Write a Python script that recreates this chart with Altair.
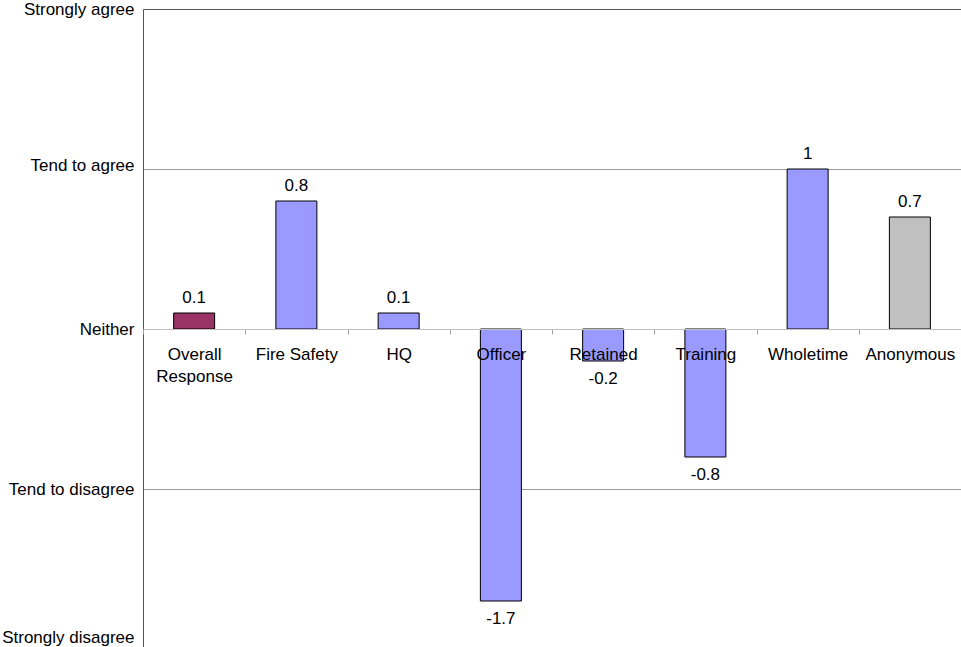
import altair as alt
import pandas as pd

categories = ["Overall Response", "Fire Safety", "HQ", "Officer",
              "Retained", "Training", "Wholetime", "Anonymous"]
scores = [0.1, 0.8, 0.1, -1.7, -0.2, -0.8, 1, 0.7]
bar_colors = ["#993366", "#9999ff", "#9999ff", "#9999ff",
              "#9999ff", "#9999ff", "#9999ff", "#c0c0c0"]

scale_ticks = [-2, -1, 0, 1, 2]
scale_labels = ["Strongly disagree", "Tend to disagree", "Neither",
                "Tend to agree", "Strongly agree"]

df = pd.DataFrame({"category": categories, "score": scores, "color": bar_colors})

label_map = "{" + ",".join(f"'{v}':'{t}'" for v, t in zip(scale_ticks, scale_labels)) + "}"

FONT = "Liberation Sans"
FS = 17

x_enc = alt.X(
    "category:N",
    sort=categories,
    scale=alt.Scale(paddingInner=0, paddingOuter=0),
    axis=alt.Axis(
        title=None,
        orient="bottom",
        offset=-320,
        domainColor="#c0c0c0",
        domainWidth=1,
        tickColor="#a0a0a0",
        tickSize=5,
        tickBand="extent",
        labelAngle=0,
        labelFont=FONT,
        labelFontSize=FS,
        labelColor="#000000",
        labelPadding=12,
        labelLineHeight=22,
        labelExpr="datum.label == 'Overall Response' ? ['Overall', 'Response'] : datum.label",
        zindex=1,
    ),
)

y_scale = alt.Scale(domain=[-2, 2], nice=False, zero=False)

bars = alt.Chart(df).mark_bar(size=41, stroke="#000000", strokeWidth=1).encode(
    x=x_enc,
    y=alt.Y(
        "score:Q",
        scale=y_scale,
        axis=alt.Axis(
            title=None,
            values=scale_ticks,
            labelExpr=label_map + "[datum.value]",
            labelFont=FONT,
            labelFontSize=FS,
            labelColor="#000000",
            labelPadding=9,
            labelBaseline=alt.expr("datum.value <= -2 ? 'bottom' : 'middle'"),
            labelOffset=alt.expr("datum.value <= -2 ? -3 : (datum.value == 1 ? -4 : 0)"),
            ticks=False,
            domainColor="#555555",
            grid=True,
            gridColor=alt.expr(
                "datum.value >= 2 ? '#555555' : (datum.value == 0 ? 'transparent' : '#999999')"
            ),
        ),
    ),
    y2=alt.datum(0),
    color=alt.Color("color:N", scale=None, legend=None),
)

text_base = alt.Chart(df).transform_calculate(
    score_text="toString(datum.score)"
).encode(
    x=alt.X("category:N", sort=categories),
    y=alt.Y("score:Q", scale=y_scale),
    text=alt.Text("score_text:N"),
)

labels_above = text_base.transform_filter("datum.score >= 0").mark_text(
    font=FONT, fontSize=FS, color="#000000", baseline="middle", dy=-15
)
labels_below = text_base.transform_filter("datum.score < 0").mark_text(
    font=FONT, fontSize=FS, color="#000000", baseline="middle", dy=18
)

chart = (
    alt.layer(bars, labels_above, labels_below)
    .properties(
        width=818,
        height=640,
        padding={"left": 143, "top": 9, "right": 0, "bottom": 0},
        autosize=alt.AutoSizeParams(type="none"),
    )
    .configure_view(stroke=None)
    .configure(background="#ffffff")
)

chart.save("out.html", embed_options={"renderer": "svg", "actions": False})
